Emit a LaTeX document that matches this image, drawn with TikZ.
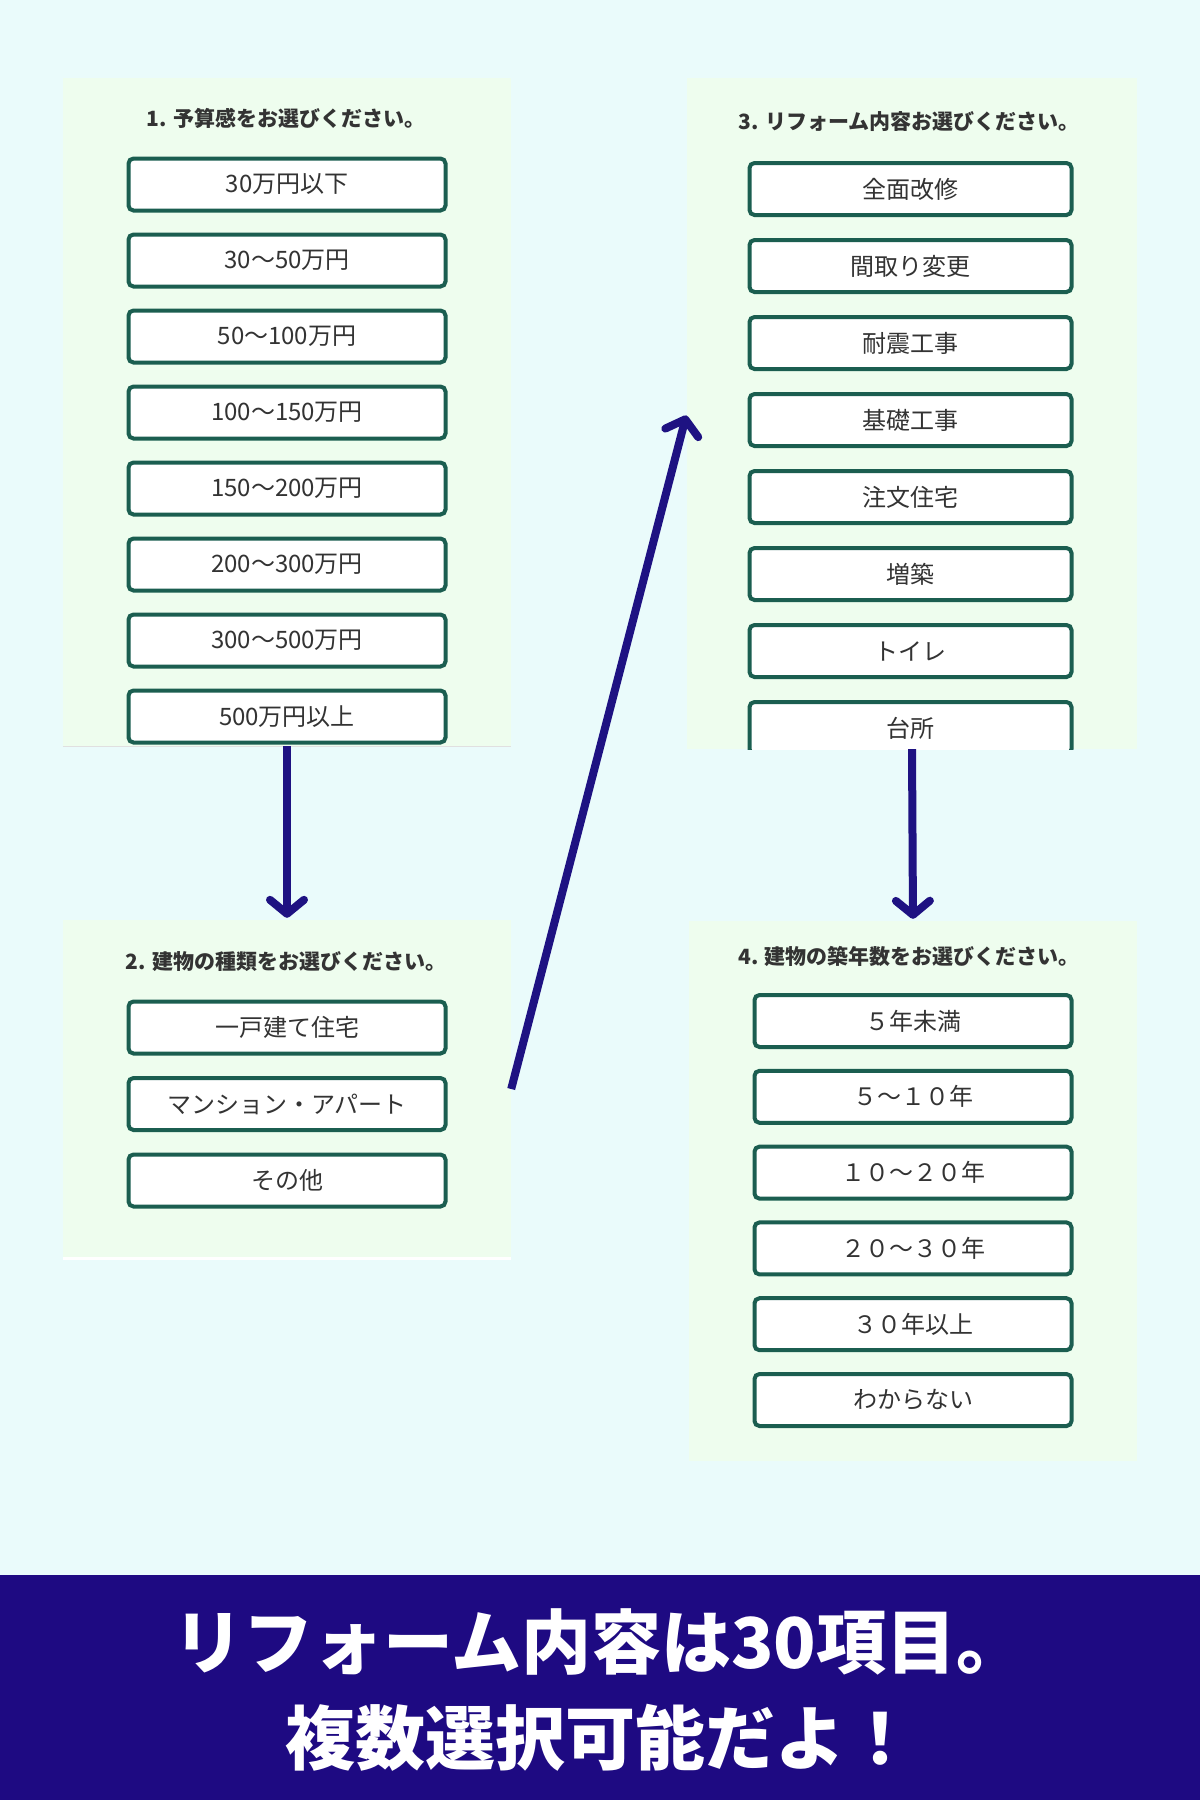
\documentclass[tikz,border=0pt]{standalone}
\usepackage{fontspec}
\setmainfont{Noto Sans CJK JP}
\usetikzlibrary{arrows.meta}
\definecolor{bgcyan}{HTML}{EAFBFB}
\definecolor{panelmint}{HTML}{EEFDEE}
\definecolor{choiceteal}{HTML}{1B5E50}
\definecolor{textgray}{HTML}{333333}
\definecolor{arrownavy}{HTML}{1E1282}
\definecolor{bannernavy}{HTML}{1E0A82}
\tikzset{
  panel/.style={fill=panelmint, inner sep=0pt, minimum width=448pt},
  choice/.style={draw=choiceteal, line width=4pt, fill=white, rounded corners=5pt,
    minimum width=317pt, minimum height=52pt, inner sep=0pt, text=textgray,
    font=\fontsize{24}{28}\selectfont},
  question/.style={text=textgray, font=\bfseries\fontsize{21}{25}\selectfont},
  headline/.style={text=white, font=\bfseries\fontsize{70}{84}\selectfont},
  flow/.style={draw=arrownavy, line width=8pt, shorten >=2pt,
    -{Straight Barb[round,length=14pt,width=34pt]}}
}
\begin{document}
\begin{tikzpicture}[x=1pt,y=-1pt]
\fill[bgcyan] (0,0) rectangle (1200,1800);
\useasboundingbox (0,0) rectangle (1200,1800);
% panels
\node[panel, minimum height=668pt] (p1) at (287,412) {};
\node[panel, minimum height=338pt] (p2) at (287,1089) {};
\node[panel, minimum width=450pt, minimum height=671pt] (p3) at (912,413.5) {};
\node[panel, minimum height=540pt] (p4) at (913,1191) {};
\draw[black!12, line width=1pt] (p1.south west) -- (p1.south east);
\draw[white, line width=3pt] (p2.south west) -- (p2.south east);
% 1.
\node[question] (t1) at (286,118) {1. 予算感をお選びください。};
\foreach \lbl [count=\i] in {30万円以下, 30〜50万円, 50〜100万円, 100〜150万円,
    150〜200万円, 200〜300万円, 300〜500万円, 500万円以上}
  \node[choice] (q1-\i) at (287,{108.5+76*\i}) {\lbl};
% 2.
\node[question] (t2) at (286,962) {2. 建物の種類をお選びください。};
\foreach \lbl [count=\i] in {一戸建て住宅, マンション・アパート, その他}
  \node[choice] (q2-\i) at (287,{951+76.5*\i}) {\lbl};
% 3.
\node[question] (t3) at (909,122) {3. リフォーム内容お選びください。};
\begin{scope}
\clip (p3.north west) rectangle (p3.south east);
\foreach \lbl [count=\i] in {全面改修, 間取り変更, 耐震工事, 基礎工事,
    注文住宅, 増築, トイレ, 台所}
  \node[choice, minimum width=322pt] (q3-\i) at (910.5,{112+77*\i}) {\lbl};
\end{scope}
% 4.
\node[question] (t4) at (909,956) {4. 建物の築年数をお選びください。};
\foreach \lbl [count=\i] in {５年未満, ５〜１０年, １０〜２０年, ２０〜３０年,
    ３０年以上, わからない}
  \node[choice] (q4-\i) at (913,{945.2+75.8*\i}) {\lbl};
% arrows
\draw[flow] (p1.south) -- (p2.north);
\draw[flow] (p3.south) -- (p4.north);
\draw[flow] (p2.east) -- (p3.west);
% banner
\fill[bannernavy] (0,1575) rectangle (1200,1800);
\node[headline] (h1) at (600,1642) {リフォーム内容は30項目。};
\node[headline] (h2) at (600,1738) {複数選択可能だよ！};
\end{tikzpicture}
\end{document}
